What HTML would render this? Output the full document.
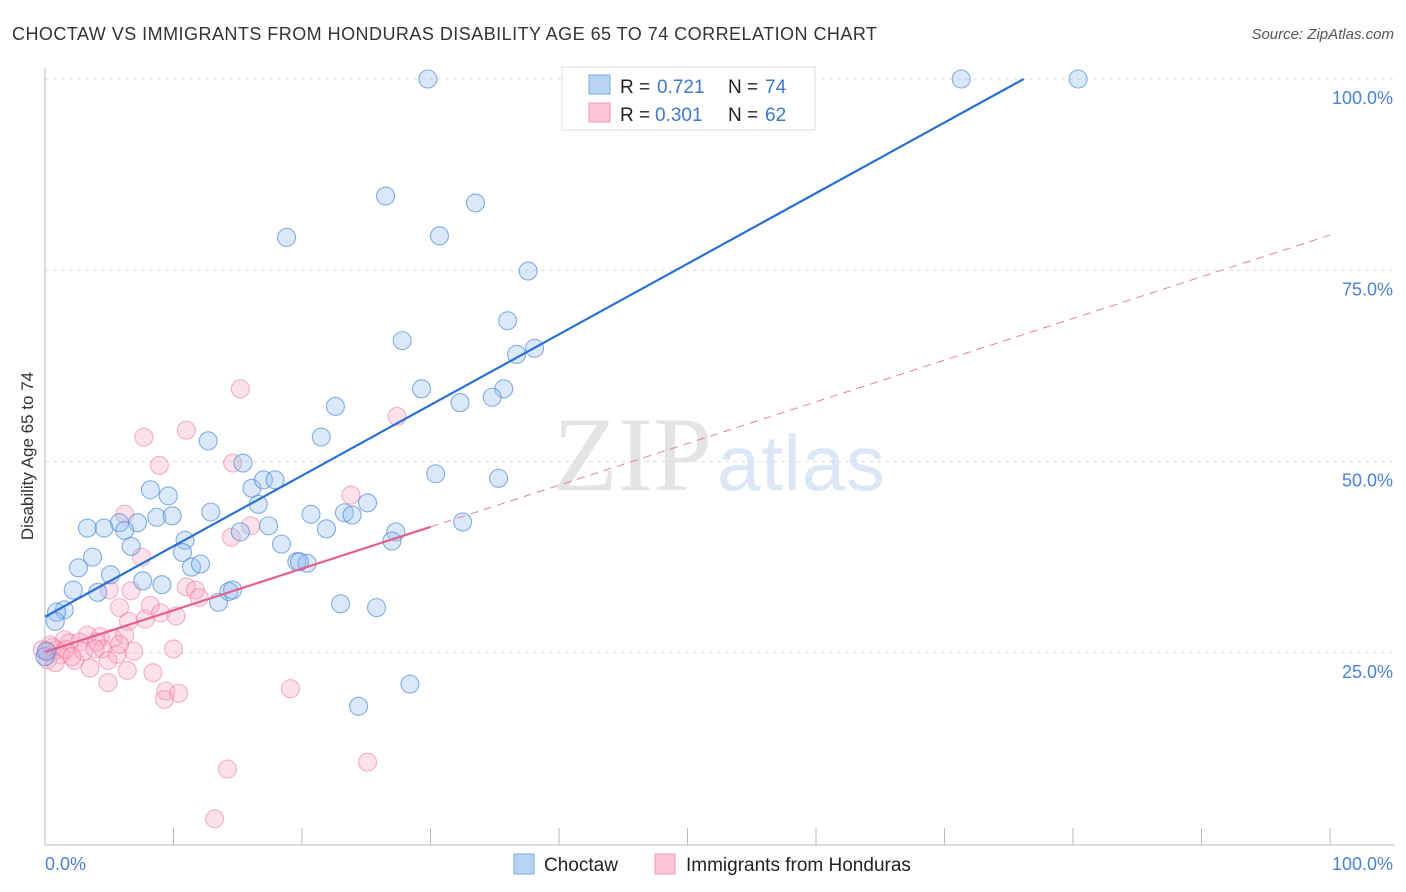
<!DOCTYPE html>
<html><head><meta charset="utf-8">
<style>
body{margin:0;background:#fff;font-family:"Liberation Sans",sans-serif;}
svg{display:block}
</style></head>
<body>
<svg id="chart" width="1406" height="892" xmlns="http://www.w3.org/2000/svg" font-family="Liberation Sans, sans-serif">
<text x="12" y="40" font-size="18" fill="#333" textLength="865">CHOCTAW VS IMMIGRANTS FROM HONDURAS DISABILITY AGE 65 TO 74 CORRELATION CHART</text>
<text x="1394" y="39" font-size="15" fill="#555" text-anchor="end" font-style="italic">Source: ZipAtlas.com</text>
<g>
<text x="553" y="490" font-family="Liberation Serif, serif" font-size="106" fill="#e4e4e4" textLength="159">ZIP</text>
<text x="717" y="490" font-size="78" fill="#dbe6f6" textLength="168">atlas</text>
</g>
<g id="grid"></g>
<g id="axes"></g>
<g id="pinkpts"></g>
<g id="bluepts"></g>
<g id="trends"></g>
<text transform="translate(33,456) rotate(-90)" font-size="17" fill="#333" text-anchor="middle">Disability Age 65 to 74</text>
<g>
<rect x="562" y="67" width="253" height="63" fill="#fff" stroke="#ddd"/>
<rect x="589" y="75" width="21" height="19" fill="#b8d4f5" stroke="#7aa8e0"/>
<rect x="589" y="103" width="21" height="19" fill="#fcc6d6" stroke="#f09ab4"/>
<text x="620" y="93" font-size="19" fill="#222">R =</text>
<text x="657" y="93" font-size="19" fill="#3f78cf">0.721</text>
<text x="728" y="93" font-size="19" fill="#222">N =</text>
<text x="765" y="93" font-size="19" fill="#3f78cf">74</text>
<text x="620" y="121" font-size="19" fill="#222">R =</text>
<text x="655" y="121" font-size="19" fill="#3f78cf">0.301</text>
<text x="728" y="121" font-size="19" fill="#222">N =</text>
<text x="765" y="121" font-size="19" fill="#3f78cf">62</text>
</g>
<g>
<rect x="514" y="854" width="20" height="20" fill="#b8d4f5" stroke="#7aa8e0"/>
<text x="544" y="871" font-size="19" fill="#222">Choctaw</text>
<rect x="655" y="854" width="20" height="20" fill="#fcc6d6" stroke="#f09ab4"/>
<text x="686" y="871" font-size="19" fill="#222">Immigrants from Honduras</text>
</g>
</svg>
<script>
const yTicks=[25,50,75,100];
const yTickLabels=["25.0%","50.0%","75.0%","100.0%"];
const xTicks=[0,10,20,30,40,50,60,70,80,90,100];
const choctawX=[29.8,71.3,80.4,26.5,33.5,18.8,30.7,37.6,36,27.8,36.7,38.1,29.3,35.7,32.3,34.8,22.6,21.5,12.7,15.4,30.4,35.3,8.2,9.6,16.1,17,17.9,16.6,25.1,23.3,23.9,20.7,12.9,8.7,9.9,3.3,4.6,5.8,7.2,6.2,17.4,21.9,15.2,32.5,27.3,27,6.7,10.9,10.7,18.4,3.7,2.6,11.4,12.1,19.6,20.4,5.1,7.6,9.1,2.2,4.1,14.3,14.6,13.5,23,25.8,1.5,0.9,0.8,28.4,24.4,0,0.1,19.8];
const choctawY=[100,100,100,84.7,83.8,79.3,79.5,74.9,68.4,65.8,64,64.8,59.5,59.5,57.7,58.4,57.2,53.2,52.7,49.8,48.4,47.8,46.3,45.5,46.5,47.6,47.6,44.4,44.6,43.3,43,43.1,43.4,42.7,42.9,41.3,41.3,42,42,41,41.6,41.2,40.8,42.1,40.8,39.6,38.9,39.7,38.1,39.2,37.5,36.1,36.2,36.6,36.9,36.7,35.2,34.4,33.9,33.2,32.9,33,33.2,31.6,31.4,30.9,30.6,30.3,29.1,20.9,18,24.5,25.2,36.9];
const hondurasX=[15.2,27.4,11,7.7,8.9,14.6,23.8,6.2,16,14.5,7.5,5,6.7,11,11.7,12,8.2,5.8,6.5,7.8,9,10.2,3.3,4.3,5.3,6.2,1.5,1.9,2.7,4,0.6,0.9,0.2,1.2,4.5,5.6,6.9,10,4.9,2.3,3.5,6.4,8.4,4.9,9.4,10.4,9.3,19.1,14.2,25.1,13.2,0.2,0.4,1.6,2.1,3,3.9,5.8,-0.2,0.8];
const hondurasY=[59.5,55.9,54.1,53.2,49.5,49.8,45.6,43.1,41.6,40.1,37.5,33.2,33.1,33.6,33.2,32.2,31.2,30.9,29.1,29.4,30.2,29.8,27.3,27.1,26.9,27.3,26.7,26.3,26.4,26.4,25.7,25.4,25.1,24.7,25.5,24.8,25.2,25.5,24,24,23,22.7,22.4,21.1,20,19.7,18.9,20.3,9.8,10.7,3.3,24.1,26,25.4,24.5,25.2,25.5,26.1,25.4,23.7];
const blueFit=[29.7,0.923];
const pinkFit=[25.1,0.545];
const X0=45,X1=1330,Y0=844,YS=7.65;
const sx=v=>X0+(X1-X0)*v/100;
const sy=v=>Y0-v*YS;
const NS="http://www.w3.org/2000/svg";
function mk(tag,attrs,parent){const e=document.createElementNS(NS,tag);for(const k in attrs)e.setAttribute(k,attrs[k]);parent.appendChild(e);return e;}
const grid=document.getElementById('grid'),axes=document.getElementById('axes');
yTicks.forEach((t,i)=>{
  const l=mk('line',{x1:X0,x2:1394,y1:sy(t),y2:sy(t),stroke:'#dcdcdc','stroke-dasharray':'4,4'},grid);
  
  
  const tx=mk('text',{x:1393,y:sy(t)+25,'font-size':18,fill:'#4a82d6','text-anchor':'end'},axes);
  tx.textContent=yTickLabels[i];
  
  
});
mk('line',{x1:X0,x2:X0,y1:68,y2:845,stroke:'#bbb'},axes);
mk('line',{x1:X0,x2:1394,y1:845,y2:845,stroke:'#bbb'},axes);
xTicks.forEach(t=>{const l=mk('line',{x1:sx(t),x2:sx(t),y1:828,y2:845,stroke:'#bbb'},axes);
  
  });
let t0=mk('text',{x:45,y:870,'font-size':18,fill:'#4a82d6'},axes);t0.textContent='0.0%';


let t1=mk('text',{x:1393,y:870,'font-size':18,fill:'#4a82d6','text-anchor':'end'},axes);t1.textContent='100.0%';


const pp=document.getElementById('pinkpts'),bp=document.getElementById('bluepts');
hondurasX.forEach((x,i)=>{const c=mk('circle',{cx:sx(x),cy:sy(hondurasY[i]),r:9,fill:'rgba(249,170,195,0.35)',stroke:'rgba(236,130,160,0.6)','stroke-width':1.1},pp);
  
  });
choctawX.forEach((x,i)=>{const c=mk('circle',{cx:sx(x),cy:sy(choctawY[i]),r:9,fill:'rgba(150,190,240,0.35)',stroke:'rgba(70,135,215,0.65)','stroke-width':1.1},bp);
  
  });
const tr=document.getElementById('trends');
const bxEnd=(100-blueFit[0])/blueFit[1];
const bl=mk('line',{x1:sx(0),y1:sy(blueFit[0]),x2:sx(bxEnd),y2:sy(100),stroke:'#2a70d2','stroke-width':2.2},tr);


const pd=mk('line',{x1:sx(30),y1:sy(pinkFit[0]+pinkFit[1]*30),x2:sx(100),y2:sy(pinkFit[0]+pinkFit[1]*100),stroke:'#e6809e','stroke-width':1,'stroke-dasharray':'8,6'},tr);


const pl=mk('line',{x1:sx(0),y1:sy(pinkFit[0]),x2:sx(30),y2:sy(pinkFit[0]+pinkFit[1]*30),stroke:'#e55f8a','stroke-width':2.2},tr);


</script>
</body></html>
